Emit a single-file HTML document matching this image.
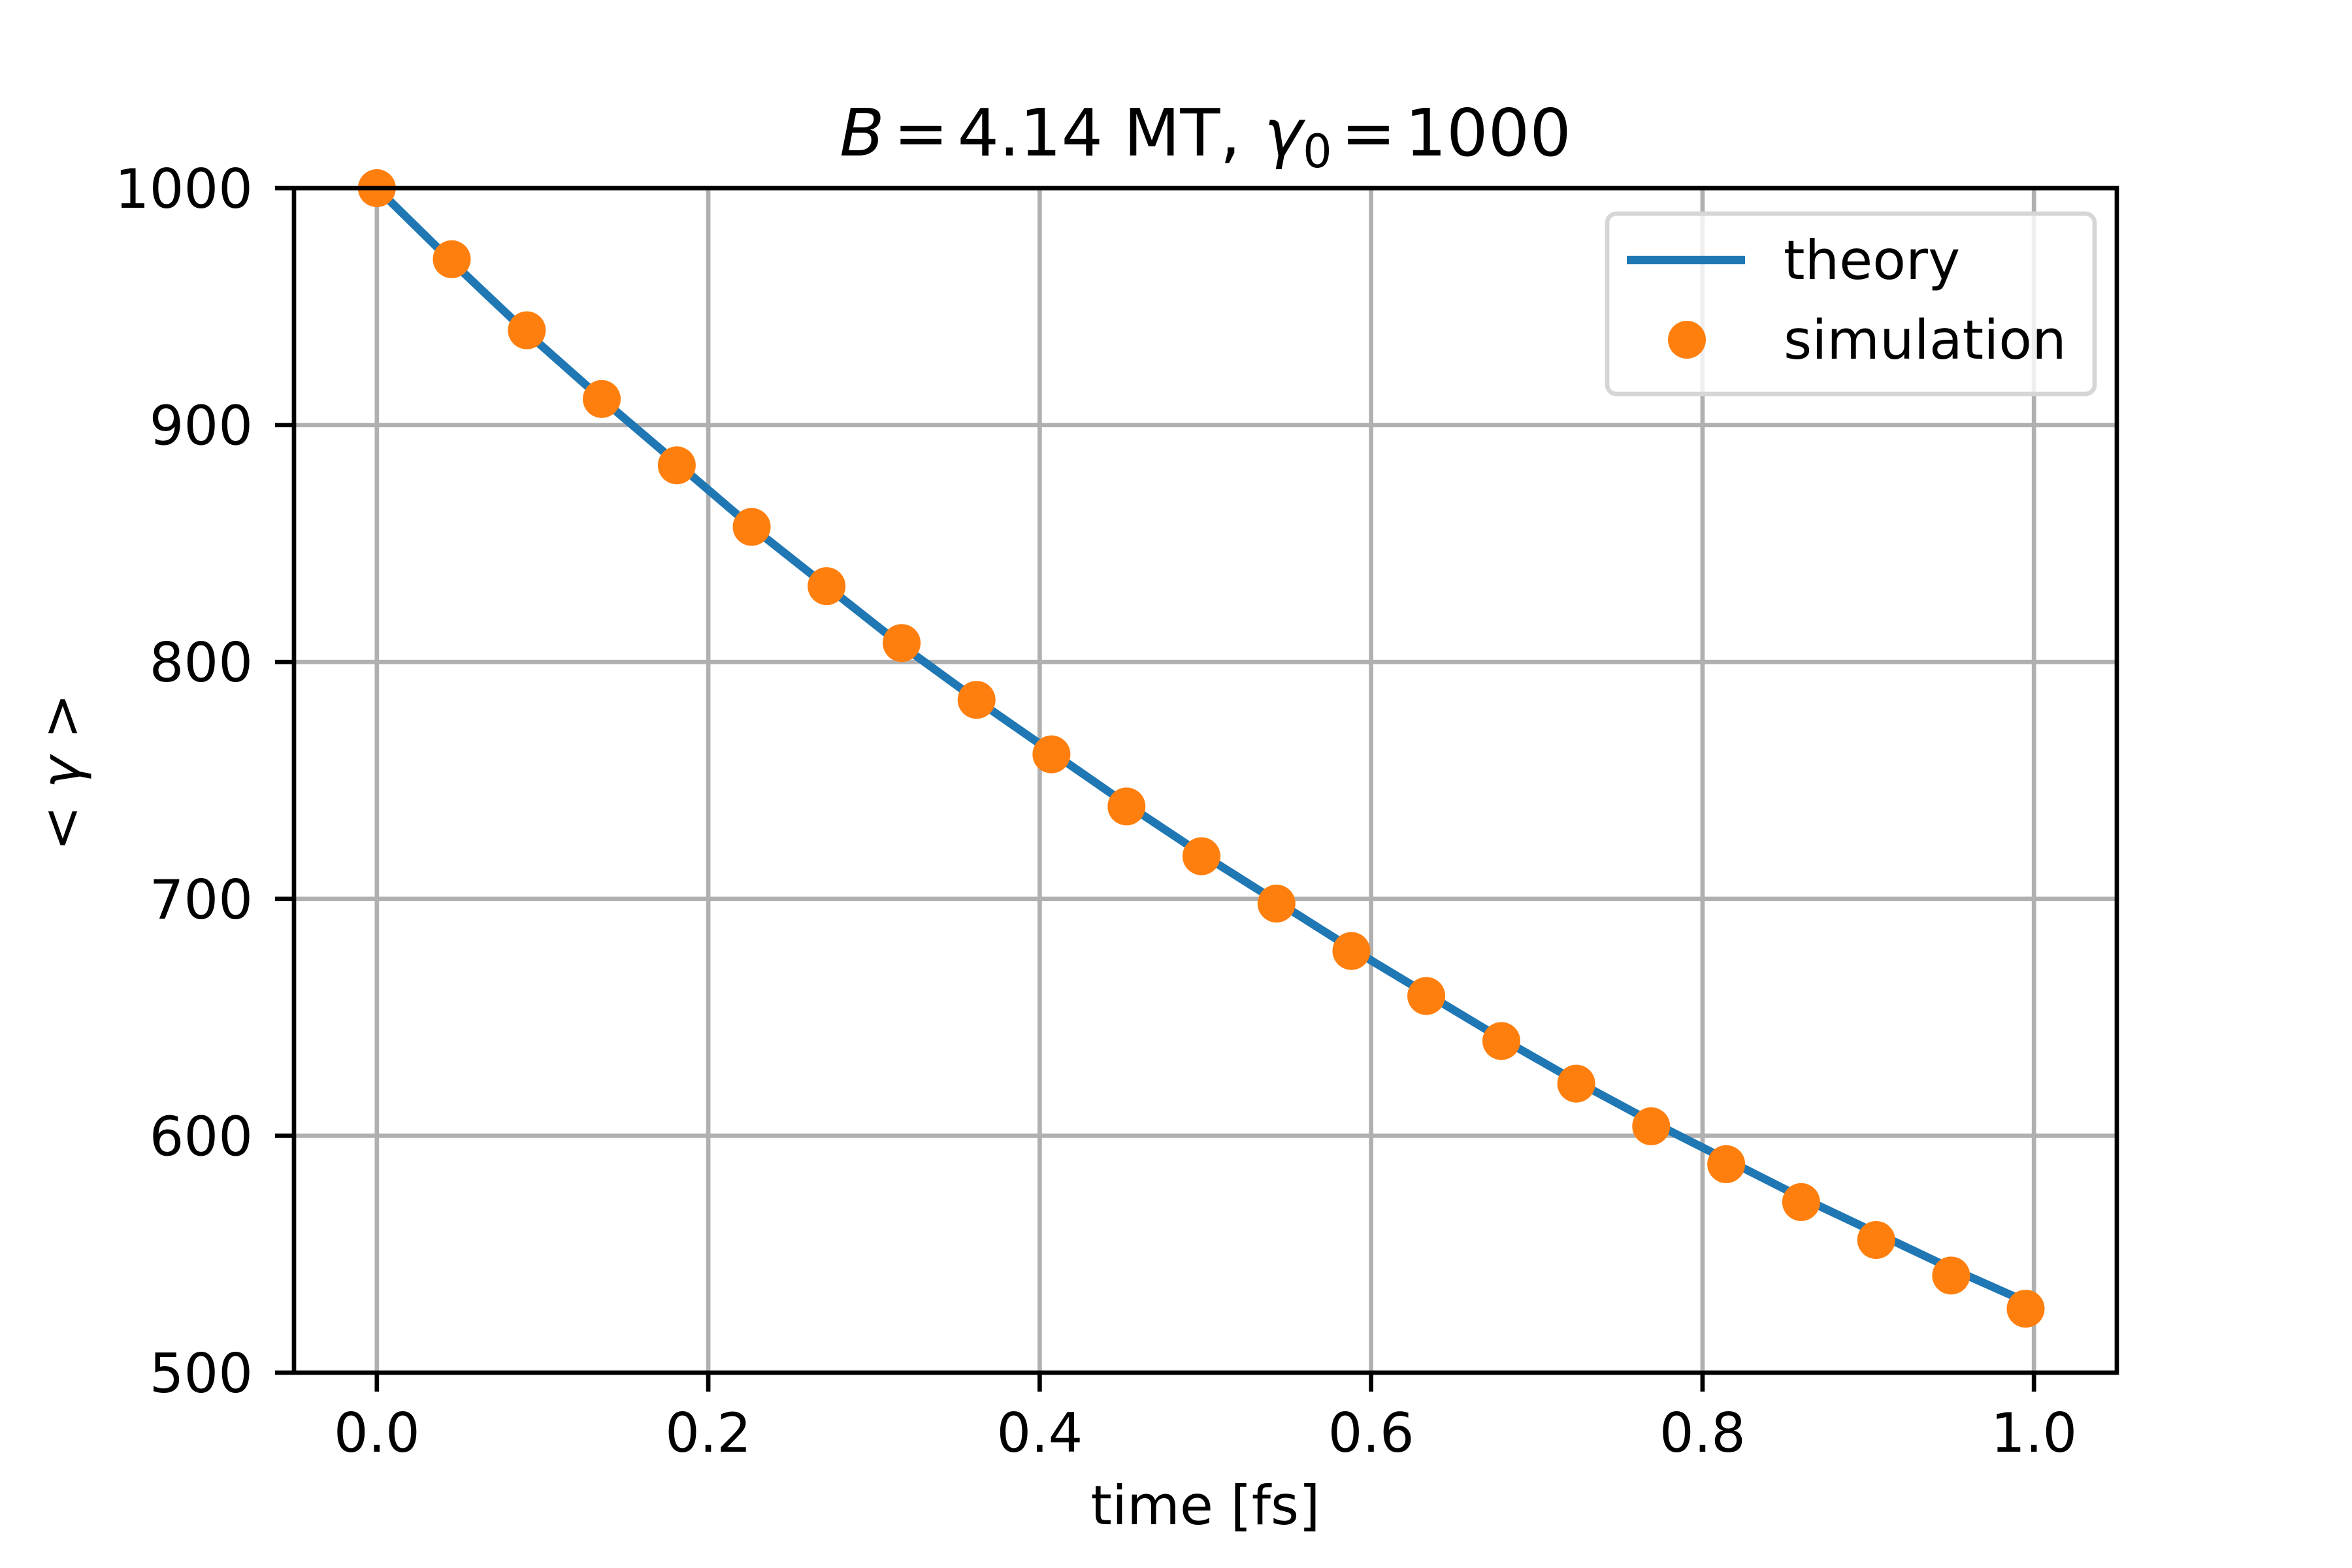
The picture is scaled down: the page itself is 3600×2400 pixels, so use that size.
<!DOCTYPE html>
<html><head><meta charset="utf-8"><style>
html,body{margin:0;padding:0;background:#fff;}
svg{display:block;font-family:"DejaVu Sans","Liberation Sans",sans-serif;}
</style></head><body>
<svg id="chart" width="3600" height="2400" viewBox="0 0 3600 2400" xmlns="http://www.w3.org/2000/svg">
<rect width="3600" height="2400" fill="#fff"/>
<g id="grid"></g>
<g id="series"></g>
<rect x="450" y="288" width="2790" height="1813" fill="none" stroke="#000" stroke-width="6.7"/>
<g id="ticks"></g>
<text x="1845" y="238" font-size="100" text-anchor="middle"><tspan font-style="italic">B</tspan><tspan dx="14">=</tspan><tspan dx="14">4.14 MT,&#160;</tspan><tspan dx="4" font-style="italic">γ</tspan><tspan font-size="70" dy="18">0</tspan><tspan dy="-18" dx="14">=</tspan><tspan dx="14">1000</tspan></text>
<text x="1845" y="2333" font-size="83" text-anchor="middle">time [fs]</text>
<text x="0" y="0" font-size="83" text-anchor="middle" transform="translate(122,1182) rotate(-90)">&lt; <tspan font-style="italic">γ</tspan> &gt;</text>
<g>
<rect x="2460" y="327" width="746" height="276" rx="14" fill="#fff" fill-opacity="0.8" stroke="#d6d6d6" stroke-width="6.7"/>
<line x1="2490" y1="398" x2="2671" y2="398" stroke="#1f77b4" stroke-width="12.5"/>
<text x="2730" y="427" font-size="83">theory</text>
<circle cx="2582" cy="520" r="29" fill="#ff7f0e"/>
<text x="2730" y="549" font-size="83">simulation</text>
</g>
</svg>
<script>
const times = [0,0.0452,0.0905,0.1357,0.181,0.2262,0.2714,0.3167,0.3619,0.4071,0.4524,0.4976,0.5429,0.5881,0.6333,0.6786,0.7238,0.769,0.8143,0.8595,0.9048,0.95,0.995];
const simulation = [1000,970,940,911,883,857,832,808,784,761,739,718,698,678,659,640,622,604,588,572,556,541,527];
const theory = [1000,969,939,911,884,857,832,807,784,762,740,719,699,679,660,641,623,606,590,574,559,544,530];
const xTicks = [0,0.2,0.4,0.6,0.8,1.0];
const xTickLabels = ["0.0","0.2","0.4","0.6","0.8","1.0"];
const yTicks = [500,600,700,800,900,1000];
const yTickLabels = ["500","600","700","800","900","1000"];

const NS="http://www.w3.org/2000/svg";
const X0=450,X1=3240,Y0=2101,Y1=288, xmin=-0.05,xmax=1.05,ymin=500,ymax=1000;
function sx(v){return X0+(v-xmin)/(xmax-xmin)*(X1-X0);}
function sy(v){return Y0-(v-ymin)/(ymax-ymin)*(Y0-Y1);}
function mk(tag,attrs,parent){const e=document.createElementNS(NS,tag);for(const k in attrs)e.setAttribute(k,attrs[k]);parent.appendChild(e);return e;}
const grid=document.getElementById('grid'),ticks=document.getElementById('ticks'),series=document.getElementById('series');
xTicks.forEach((t,i)=>{
  const g=mk('line',{x1:sx(t),x2:sx(t),y1:Y1,y2:Y0,stroke:'#b0b0b0','stroke-width':6.7},grid);
  
  
  const tk=mk('line',{x1:sx(t),x2:sx(t),y1:Y0,y2:Y0+29,stroke:'#000','stroke-width':6.7},ticks);
  
  
  const tl=mk('text',{x:sx(t),y:2222,'font-size':83,'text-anchor':'middle'},ticks);
  tl.textContent=xTickLabels[i];
  
  
});
yTicks.forEach((t,i)=>{
  const g=mk('line',{x1:X0,x2:X1,y1:sy(t),y2:sy(t),stroke:'#b0b0b0','stroke-width':6.7},grid);
  
  
  const tk=mk('line',{x1:X0-29,x2:X0,y1:sy(t),y2:sy(t),stroke:'#000','stroke-width':6.7},ticks);
  
  
  const tl=mk('text',{x:387,y:sy(t)+30,'font-size':83,'text-anchor':'end'},ticks);
  tl.textContent=yTickLabels[i];
  
  
});
const pts=times.map((t,i)=>sx(t).toFixed(1)+','+sy(theory[i]).toFixed(1)).join(' ');
const line=mk('polyline',{points:pts,fill:'none',stroke:'#1f77b4','stroke-width':12.5,'stroke-linejoin':'round'},series);


times.forEach((t,i)=>{
  const c=mk('circle',{cx:sx(t),cy:sy(simulation[i]),r:29,fill:'#ff7f0e'},series);
  
  
});
</script>
</body></html>
